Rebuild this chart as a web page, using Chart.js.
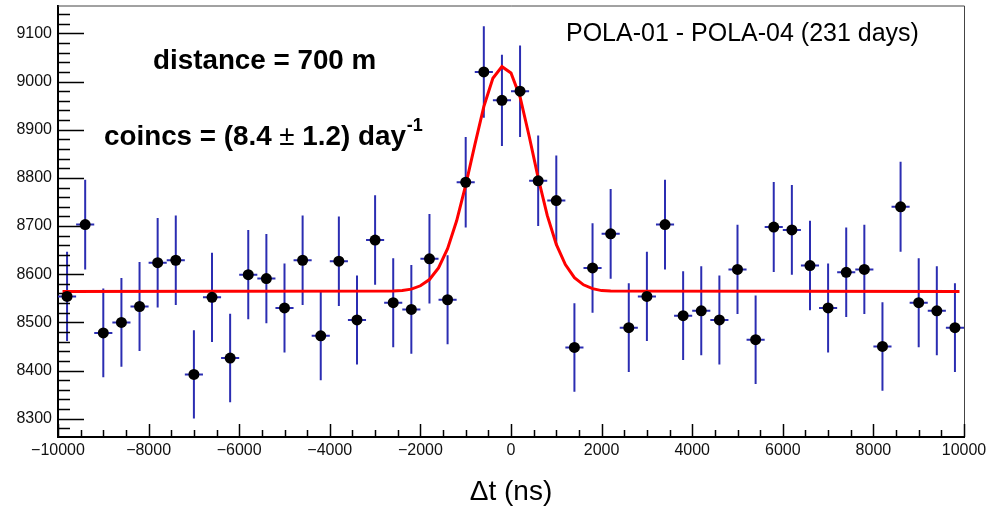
<!DOCTYPE html>
<html><head><meta charset="utf-8">
<script src="https://cdn.jsdelivr.net/npm/chart.js@4.4.1/dist/chart.umd.min.js"></script>
<style>html,body{margin:0;padding:0;background:#fff}#wrap{width:986px;height:506px}</style>
</head><body><div id="wrap"><canvas id="c" width="986" height="506"></canvas></div>
<script>
// ---- data ----
const binCenters = [-9800,-9400,-9000,-8600,-8200,-7800,-7400,-7000,-6600,-6200,-5800,-5400,-5000,-4600,-4200,-3800,-3400,-3000,-2600,-2200,-1800,-1400,-1000,-600,-200,200,600,1000,1400,1800,2200,2600,3000,3400,3800,4200,4600,5000,5400,5800,6200,6600,7000,7400,7800,8200,8600,9000,9400,9800];
const counts = [8554,8703,8478,8500,8533,8624,8629,8392,8552,8426,8599,8591,8530,8629,8472,8627,8505,8671,8541,8527,8632,8547,8791,9020,8961,8980,8794,8753,8448,8613,8684,8489,8554,8703,8514,8524,8505,8610,8464,8698,8692,8618,8530,8604,8610,8450,8740,8541,8524,8489];
const countErrors = [92.5,93.3,92.1,92.2,92.4,92.9,92.9,91.6,92.5,91.8,92.7,92.7,92.4,92.9,92.0,92.9,92.2,93.1,92.4,92.3,92.9,92.4,93.8,95.0,94.7,94.8,93.8,93.6,91.9,92.8,93.2,92.1,92.5,93.3,92.3,92.3,92.2,92.8,92.0,93.3,93.2,92.8,92.4,92.8,92.8,91.9,93.5,92.4,92.3,92.1];
const binHalfWidth = 200;
const fitX = [-9900,-2600,-2400,-2200,-2000,-1800,-1600,-1400,-1200,-1000,-800,-600,-400,-200,0,200,400,600,800,1000,1200,1400,1600,1800,2000,2200,9900];
const fitY = [8564,8565,8566,8569,8576,8589,8613,8653,8711,8785,8868,8948,9007,9031,9018,8968,8887,8800,8722,8662,8620,8593,8578,8570,8566,8565,8564];
const xTickValues = [-10000,-8000,-6000,-4000,-2000,0,2000,4000,6000,8000,10000];
const xTickLabels = ['\u221210000','\u22128000','\u22126000','\u22124000','\u22122000','0','2000','4000','6000','8000','10000'];
const yTickValues = [8300,8400,8500,8600,8700,8800,8900,9000,9100];
const yTickLabels = ['8300','8400','8500','8600','8700','8800','8900','9000','9100'];
const xTitle = '\u0394t (ns)';
const textDistance = 'distance = 700 m';
const textCoincsA = 'coincs = (8.4 ';
const textPm = '\u00b1';
const textCoincsB = ' 1.2) day';
const textSup = '-1';
const textPair = 'POLA-01 - POLA-04 (231 days)';

const FONT = '"Liberation Sans", Arial, Helvetica, sans-serif';
const ERR_COLOR = '#2b2db2';

const errorBars = {
  id: 'errorBars',
  beforeDatasetsDraw(chart) {
    const {ctx, scales: {x, y}, chartArea: a} = chart;
    ctx.save();
    ctx.beginPath(); ctx.rect(a.left, a.top, a.right - a.left, a.bottom - a.top); ctx.clip();
    ctx.strokeStyle = ERR_COLOR; ctx.lineWidth = 2;
    binCenters.forEach((c, i) => {
      const px = x.getPixelForValue(c), py = y.getPixelForValue(counts[i]);
      ctx.beginPath();
      ctx.moveTo(px, y.getPixelForValue(counts[i] - countErrors[i]));
      ctx.lineTo(px, y.getPixelForValue(counts[i] + countErrors[i]));
      ctx.moveTo(x.getPixelForValue(c - binHalfWidth), py);
      ctx.lineTo(x.getPixelForValue(c + binHalfWidth), py);
      ctx.stroke();
    });
    ctx.restore();
  }
};

const frameAndTicks = {
  id: 'frameAndTicks',
  afterDraw(chart) {
    const {ctx, scales: {x, y}, chartArea: a} = chart;
    ctx.save();
    // thin top / right frame
    ctx.strokeStyle = '#444'; ctx.lineWidth = 1;
    ctx.beginPath();
    ctx.moveTo(a.left, a.top + 0.5); ctx.lineTo(a.right + 0.5, a.top + 0.5); ctx.lineTo(a.right + 0.5, a.bottom);
    ctx.stroke();
    // inward ticks
    ctx.strokeStyle = '#000'; ctx.lineWidth = 1.5;
    ctx.beginPath();
    for (let v = Math.ceil(y.min / 20) * 20; v <= y.max; v += 20) {
      const py = Math.round(y.getPixelForValue(v)) + 0.5;
      const len = (v % 100 === 0) ? 26 : 12;
      ctx.moveTo(a.left, py); ctx.lineTo(a.left + len, py);
    }
    for (let v = x.min; v <= x.max; v += 500) {
      const px = Math.round(x.getPixelForValue(v)) + 0.5;
      const len = (v % 2000 === 0) ? 13 : 7;
      ctx.moveTo(px, a.bottom); ctx.lineTo(px, a.bottom - len);
    }
    ctx.stroke();
    // texts
    ctx.fillStyle = '#000';
    ctx.textBaseline = 'alphabetic';
    ctx.textAlign = 'left';
    ctx.font = 'bold 27.8px ' + FONT;
    ctx.fillText(textDistance, 153, 69);
    let tx = 104;
    ctx.fillText(textCoincsA, tx, 145); tx += ctx.measureText(textCoincsA).width;
    ctx.font = '27.8px ' + FONT;
    ctx.fillText(textPm, tx, 145); tx += ctx.measureText(textPm).width;
    ctx.font = 'bold 27.8px ' + FONT;
    ctx.fillText(textCoincsB, tx, 145); tx += ctx.measureText(textCoincsB).width;
    ctx.font = 'bold 18px ' + FONT;
    ctx.fillText(textSup, tx + 1, 131);
    ctx.font = '25px ' + FONT;
    ctx.fillText(textPair, 566, 41);
    ctx.font = '28px ' + FONT;
    ctx.textAlign = 'center';
    ctx.fillText(xTitle, (a.left + a.right) / 2, 500);
    ctx.restore();
  }
};

new Chart(document.getElementById('c'), {
  type: 'scatter',
  data: {
    datasets: [
      { label: 'data', data: binCenters.map((c, i) => ({x: c, y: counts[i]})), pointRadius: 5.5, pointHoverRadius: 5.5,
        pointBackgroundColor: '#000', pointBorderColor: '#000', pointBorderWidth: 0, showLine: false, order: 0 },
      { label: 'fit', data: fitX.map((v, i) => ({x: v, y: fitY[i]})), showLine: true, borderColor: '#ff0000',
        borderWidth: 3, pointRadius: 0, tension: 0, order: 1 }
    ]
  },
  options: {
    responsive: false, animation: false, devicePixelRatio: 1,
    layout: {padding: {top: 5, right: 22, left: 0, bottom: 0}},
    plugins: {legend: {display: false}, tooltip: {enabled: false}},
    scales: {
      x: {
        type: 'linear', min: -10000, max: 10000,
        grid: {display: false, drawTicks: false},
        border: {display: true, color: '#000', width: 2},
        afterBuildTicks: s => { s.ticks = xTickValues.map(v => ({value: v})); },
        afterFit: s => { s.height = 69; s.paddingLeft = 0; s.paddingRight = 0; },
        ticks: {callback: (v, i) => xTickLabels[i], font: {family: FONT, size: 16}, color: '#111', padding: 4,
                maxRotation: 0, autoSkip: false}
      },
      y: {
        type: 'linear', min: 8262, max: 9158,
        grid: {display: false, drawTicks: false},
        border: {display: true, color: '#000', width: 2},
        afterBuildTicks: s => { s.ticks = yTickValues.map(v => ({value: v})); },
        afterFit: s => { s.width = 58; s.paddingTop = 0; s.paddingBottom = 0; },
        ticks: {callback: (v, i) => yTickLabels[i], font: {family: FONT, size: 16}, color: '#111', padding: 6, autoSkip: false}
      }
    }
  },
  plugins: [errorBars, frameAndTicks]
});
</script>
</body></html>
